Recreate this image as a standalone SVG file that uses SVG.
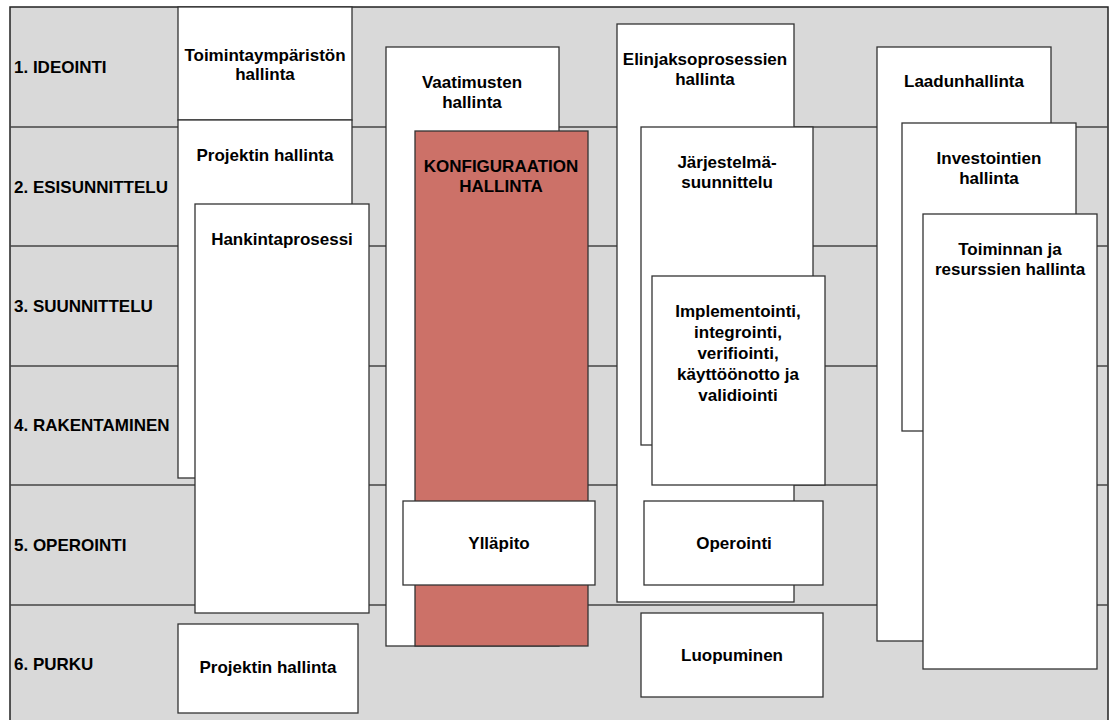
<svg xmlns="http://www.w3.org/2000/svg" width="1115" height="720" viewBox="0 0 1115 720">
  <style>
    .lane { fill: #d9d9d9; stroke: #222; stroke-width: 1.5; }
    .sep { stroke: #444; stroke-width: 1.5; fill: none; }
    .box { fill: #ffffff; stroke: #333; stroke-width: 1.3; }
    .cm { fill: #cc7168; stroke: #333; stroke-width: 1.3; }
    text { font-family: "Liberation Sans", Arial, sans-serif; font-weight: bold; font-size: 17px; fill: #000; }
    .c { text-anchor: middle; }
  </style>

  <!-- lifecycle phase lanes -->
  <g id="lanes">
    <rect class="lane" x="10" y="7" width="1098" height="720"/>
    <line class="sep" x1="10" y1="127" x2="1108" y2="127"/>
    <line class="sep" x1="10" y1="246" x2="1108" y2="246"/>
    <line class="sep" x1="10" y1="366" x2="1108" y2="366"/>
    <line class="sep" x1="10" y1="485" x2="1108" y2="485"/>
    <line class="sep" x1="10" y1="605" x2="1108" y2="605"/>
    <text x="14" y="73">1. IDEOINTI</text>
    <text x="14" y="193">2. ESISUNNITTELU</text>
    <text x="14" y="312">3. SUUNNITTELU</text>
    <text x="14" y="431">4. RAKENTAMINEN</text>
    <text x="14" y="551">5. OPEROINTI</text>
    <text x="14" y="670">6. PURKU</text>
  </g>

  <!-- project and acquisition column -->
  <g id="toimintaymparisto">
    <rect class="box" x="178" y="7" width="174" height="113"/>
    <text class="c" x="265" y="61">Toimintaympäristön</text>
    <text class="c" x="265" y="80">hallinta</text>
  </g>
  <g id="projekti">
    <rect class="box" x="178" y="120" width="174" height="358"/>
    <text class="c" x="265" y="161">Projektin hallinta</text>
  </g>
  <g id="hankinta">
    <rect class="box" x="195" y="204" width="174" height="409"/>
    <text class="c" x="282" y="245">Hankintaprosessi</text>
  </g>
  <g id="projekti-purku">
    <rect class="box" x="178" y="624" width="180" height="89"/>
    <text class="c" x="268" y="673">Projektin hallinta</text>
  </g>

  <!-- requirements / configuration column -->
  <g id="vaatimukset">
    <rect class="box" x="386" y="47" width="173" height="599"/>
    <text class="c" x="472" y="88">Vaatimusten</text>
    <text class="c" x="472" y="108">hallinta</text>
  </g>
  <g id="konfiguraatio">
    <rect class="cm" x="415" y="131" width="173" height="515"/>
    <text class="c" x="501" y="172">KONFIGURAATION</text>
    <text class="c" x="501" y="192">HALLINTA</text>
  </g>
  <g id="yllapito">
    <rect class="box" x="403" y="501" width="192" height="84"/>
    <text class="c" x="499" y="549">Ylläpito</text>
  </g>

  <!-- life-cycle process column -->
  <g id="elinjakso">
    <rect class="box" x="617" y="24" width="177" height="578"/>
    <text class="c" x="705" y="65">Elinjaksoprosessien</text>
    <text class="c" x="705" y="85">hallinta</text>
  </g>
  <g id="jarjestelma">
    <rect class="box" x="641" y="127" width="172" height="318"/>
    <text class="c" x="727" y="168">Järjestelmä-</text>
    <text class="c" x="727" y="188">suunnittelu</text>
  </g>
  <g id="implementointi">
    <rect class="box" x="652" y="276" width="173" height="209"/>
    <text class="c" x="738" y="317">Implementointi,</text>
    <text class="c" x="738" y="338">integrointi,</text>
    <text class="c" x="738" y="359">verifiointi,</text>
    <text class="c" x="738" y="380">käyttöönotto ja</text>
    <text class="c" x="738" y="401">validiointi</text>
  </g>
  <g id="operointi">
    <rect class="box" x="644" y="501" width="179" height="84"/>
    <text class="c" x="734" y="549">Operointi</text>
  </g>
  <g id="luopuminen">
    <rect class="box" x="641" y="613" width="182" height="84"/>
    <text class="c" x="732" y="661">Luopuminen</text>
  </g>

  <!-- quality / investment / resources column -->
  <g id="laatu">
    <rect class="box" x="877" y="47" width="174" height="594"/>
    <text class="c" x="964" y="87">Laadunhallinta</text>
  </g>
  <g id="investoinnit">
    <rect class="box" x="902" y="123" width="174" height="308"/>
    <text class="c" x="989" y="164">Investointien</text>
    <text class="c" x="989" y="184">hallinta</text>
  </g>
  <g id="resurssit">
    <rect class="box" x="923" y="214" width="174" height="455"/>
    <text class="c" x="1010" y="255">Toiminnan ja</text>
    <text class="c" x="1010" y="275">resurssien hallinta</text>
  </g>

  <g id="connectors"></g>
</svg>
